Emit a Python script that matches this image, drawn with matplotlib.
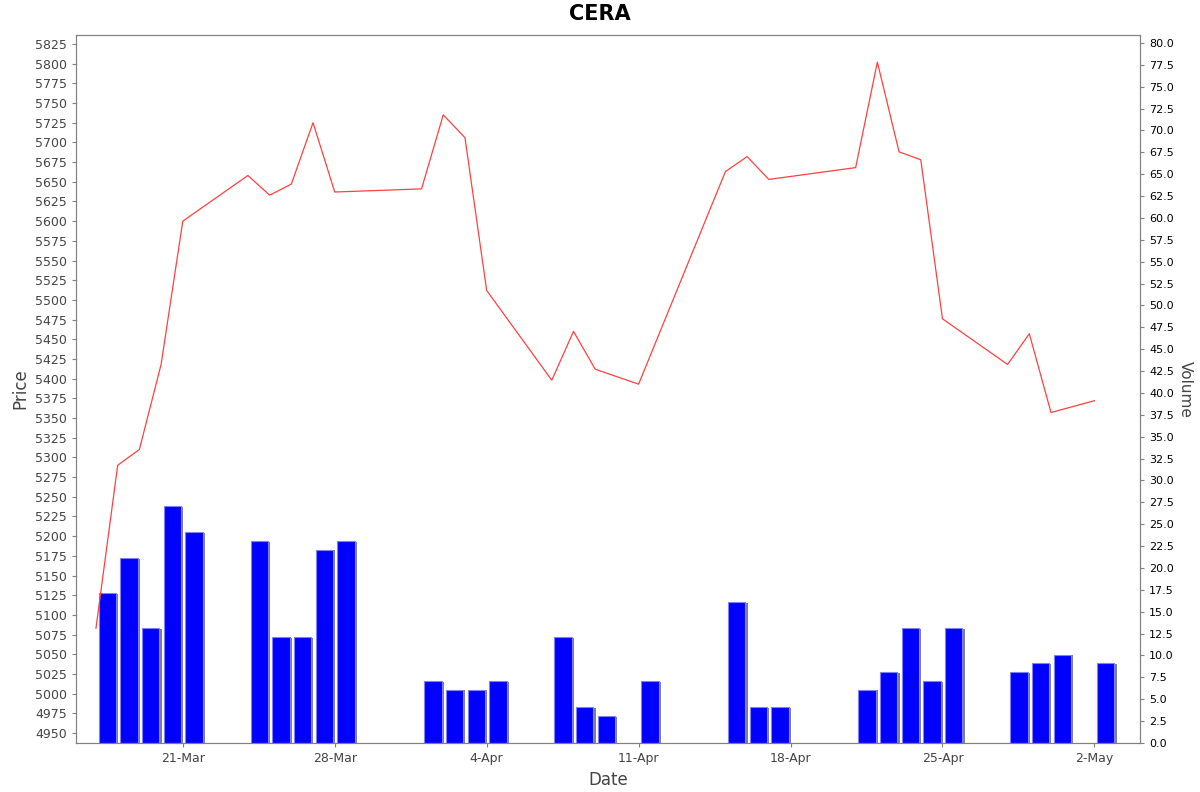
import numpy as np
import pandas as pd
import matplotlib
matplotlib.use("Agg")
import matplotlib.pyplot as plt
import matplotlib.dates as mdates

# Data
dates = pd.to_datetime([
    "2023-03-17", "2023-03-18", "2023-03-19", "2023-03-20", "2023-03-21",
    "2023-03-24", "2023-03-25", "2023-03-26", "2023-03-27", "2023-03-28",
    "2023-04-01", "2023-04-02", "2023-04-03", "2023-04-04",
    "2023-04-07", "2023-04-08", "2023-04-09", "2023-04-11",
    "2023-04-15", "2023-04-16", "2023-04-17",
    "2023-04-21", "2023-04-22", "2023-04-23", "2023-04-24", "2023-04-25",
    "2023-04-28", "2023-04-29", "2023-04-30", "2023-05-02",
])
price = [5083, 5290, 5310, 5418, 5600,
         5658, 5633, 5647, 5725, 5637,
         5641, 5735, 5706, 5512,
         5398, 5460, 5412, 5393,
         5663, 5682, 5653,
         5668, 5802, 5688, 5678, 5476,
         5418, 5457, 5357, 5372]
volume = [17, 21, 13, 27, 24,
          23, 12, 12, 22, 23,
          7, 6, 6, 7,
          12, 4, 3, 7,
          16, 4, 4,
          6, 8, 13, 7, 13,
          8, 9, 10, 9]

fig = plt.figure(figsize=(12, 7.92), dpi=100)
ax = fig.add_axes([76 / 1200, 1 - 743 / 792, 1064 / 1200, 708 / 792])
ax2 = ax.twinx()

x = mdates.date2num(dates)
bar_left = x + 0.12
ax2.bar(bar_left + 0.12, volume, width=0.78, align="edge", color="#808080", zorder=1)
ax2.bar(bar_left, [v + 0.1 for v in volume], width=0.8, align="edge", color="#0000ff",
        edgecolor="#8080ff", linewidth=0.8, zorder=2)
ax2.set_ylim(0, 80.9)
ax2.set_yticks(np.arange(0, 80.1, 2.5))
ax2.set_yticklabels([f"{v:.1f}" for v in np.arange(0, 80.1, 2.5)])
ax2.set_ylabel("Volume", rotation=270, labelpad=14, fontsize=11, color="#444444")
ax2.tick_params(axis="y", labelsize=8, length=3, color="#808080")

ax.plot(x, price, color="#ff4040", linewidth=0.9, zorder=3)
ax.set_zorder(ax2.get_zorder() + 1)
ax.patch.set_visible(False)
ax.set_ylim(4937.3, 5836.4)
ax.set_yticks(np.arange(4950, 5826, 25))
ax.set_ylabel("Price", fontsize=12, color="#444444")
ax.tick_params(axis="y", labelsize=9, length=3, color="#808080", labelcolor="#444444")

start = mdates.date2num(pd.Timestamp("2023-03-17"))
ax.set_xlim(start - 0.92, start + 48.1)
ax.xaxis.set_major_locator(mdates.DayLocator(bymonthday=[4, 11, 18, 25, 2, 21, 28]))
ticks = pd.to_datetime(["2023-03-21", "2023-03-28", "2023-04-04", "2023-04-11",
                        "2023-04-18", "2023-04-25", "2023-05-02"])
ax.set_xticks(mdates.date2num(ticks))
ax.set_xticklabels([f"{d.day}-{d.strftime('%b')}" for d in ticks])
ax.tick_params(axis="x", labelsize=9, length=3, color="#808080", labelcolor="#444444")
ax.set_xlabel("Date", fontsize=12, color="#444444")

for a in (ax, ax2):
    for s in a.spines.values():
        s.set_color("#808080")

fig.suptitle("CERA", fontsize=15, fontweight="bold", y=0.995)
fig.savefig("out.png", dpi=100)
